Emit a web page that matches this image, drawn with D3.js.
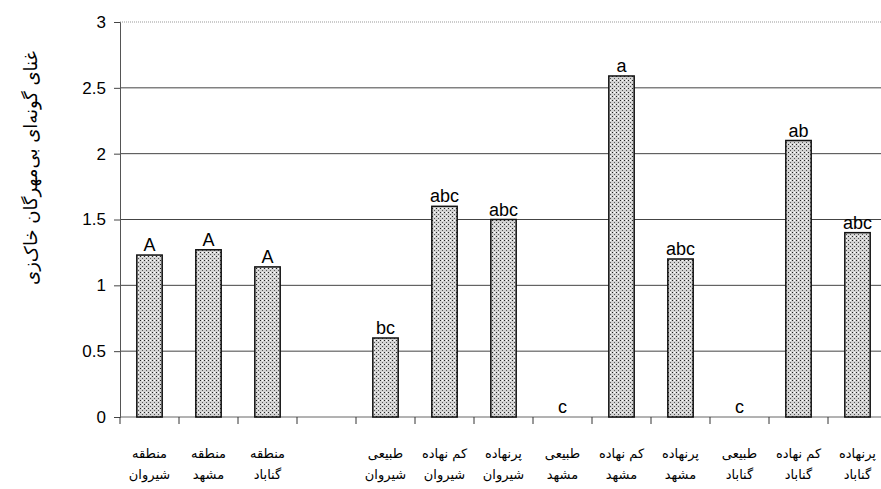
<html>
<head>
<script src="https://d3js.org/d3.v7.min.js"></script>
<style>
    body { margin: 0; background: #fff; }
    svg { font-family: "Liberation Sans", Arial, sans-serif; }
    .fa { font-family: "DejaVu Sans", sans-serif; }
</style>
</head>
<body>
<svg id="chart"></svg>
<script>
const width = 881, height = 489;

// data
const line1 = ["منطقه", "منطقه", "منطقه", "", "طبیعی", "کم نهاده", "پرنهاده", "طبیعی", "کم نهاده", "پرنهاده", "طبیعی", "کم نهاده", "پرنهاده"];
const line2 = ["شیروان", "مشهد", "گناباد", "", "شیروان", "شیروان", "شیروان", "مشهد", "مشهد", "مشهد", "گناباد", "گناباد", "گناباد"];
const values = [1.23, 1.27, 1.14, null, 0.6, 1.6, 1.5, 0, 2.59, 1.2, 0, 2.1, 1.4];
const letters = ["A", "A", "A", "", "bc", "abc", "abc", "c", "a", "abc", "c", "ab", "abc"];
const yTicks = [0, 0.5, 1, 1.5, 2, 2.5, 3];
const yTitle = "غنای گونه‌ای بی‌مهرگان خاک‌زی";

const idx = d3.range(values.length);
const margin = { top: 22, left: 120, bottom: 417, right: 887 };

const svg = d3.select("#chart").attr("width", width).attr("height", height);

// stipple fill like the old excel pattern
const pat = svg.append("defs").append("pattern")
    .attr("id", "dots").attr("patternUnits", "userSpaceOnUse")
    .attr("width", 4).attr("height", 4);
pat.append("rect").attr("width", 4).attr("height", 4).attr("fill", "#d2d2d2");
pat.append("rect").attr("x", 0).attr("y", 0).attr("width", 1).attr("height", 1).attr("fill", "#222");
pat.append("rect").attr("x", 2).attr("y", 2).attr("width", 1).attr("height", 1).attr("fill", "#555");
pat.append("rect").attr("x", 2).attr("y", 0).attr("width", 1).attr("height", 1).attr("fill", "#fff");

const x = d3.scaleBand().domain(idx).range([margin.left, margin.right]).paddingInner(0.57).paddingOuter(0.285);
const y = d3.scaleLinear().domain([0, 3]).range([margin.bottom, margin.top]);

// gridlines
svg.append("g").selectAll("line")
    .data(yTicks.filter(d => d > 0))
    .join("line")
    .attr("x1", margin.left).attr("x2", width)
    .attr("y1", d => y(d)).attr("y2", d => y(d))
    .attr("stroke", d => d === 3 ? "#999" : "#444")
    .attr("stroke-width", 1)
    .attr("stroke-dasharray", d => d === 3 ? "1,1" : null);

// y axis
const yAxis = svg.append("g")
    .attr("transform", `translate(${margin.left},0)`)
    .call(d3.axisLeft(y).tickValues(yTicks).tickSize(6).tickPadding(8).tickFormat(d3.format("")));
yAxis.select(".domain").attr("stroke", "#555");
yAxis.selectAll(".tick line").attr("stroke", "#444");
yAxis.selectAll("text").attr("font-size", 17).attr("fill", "#000");

// x axis, ticks between categories
const step = x.step();
const xAxis = svg.append("g").attr("transform", `translate(0,${margin.bottom})`);
xAxis.append("line").attr("x1", margin.left).attr("x2", width).attr("stroke", "#666");
xAxis.selectAll(".xt")
    .data(d3.range(values.length + 1))
    .join("line")
    .attr("class", "xt")
    .attr("x1", i => margin.left + i * step).attr("x2", i => margin.left + i * step)
    .attr("y1", 0).attr("y2", 7)
    .attr("stroke", "#333");

// bars
svg.append("g").selectAll("rect")
    .data(idx.filter(i => values[i] > 0))
    .join("rect")
    .attr("x", i => x(i))
    .attr("width", x.bandwidth())
    .attr("y", i => y(values[i]))
    .attr("height", i => y(0) - y(values[i]))
    .attr("fill", "url(#dots)")
    .attr("stroke", "#111")
    .attr("stroke-width", 1.5);

// significance letters
svg.append("g").selectAll("text")
    .data(idx.filter(i => letters[i]))
    .join("text")
    .attr("x", i => x(i) + x.bandwidth() / 2)
    .attr("y", i => y(values[i]) - 4)
    .attr("text-anchor", "middle")
    .attr("font-size", 18)
    .text(i => letters[i]);

// category labels (two lines)
const lab = svg.append("g").attr("class", "fa");
lab.selectAll(".l1")
    .data(idx).join("text").attr("class", "l1")
    .attr("x", i => x(i) + x.bandwidth() / 2).attr("y", 458)
    .attr("text-anchor", "middle").attr("font-size", 13)
    .text(i => line1[i]);
lab.selectAll(".l2")
    .data(idx).join("text").attr("class", "l2")
    .attr("x", i => x(i) + x.bandwidth() / 2).attr("y", 479)
    .attr("text-anchor", "middle").attr("font-size", 13)
    .text(i => line2[i]);

// y title
svg.append("text")
    .attr("class", "fa")
    .attr("transform", "translate(37,168) rotate(-90)")
    .attr("text-anchor", "middle")
    .attr("font-size", 18)
    .text(yTitle);
</script>
</body>
</html>
